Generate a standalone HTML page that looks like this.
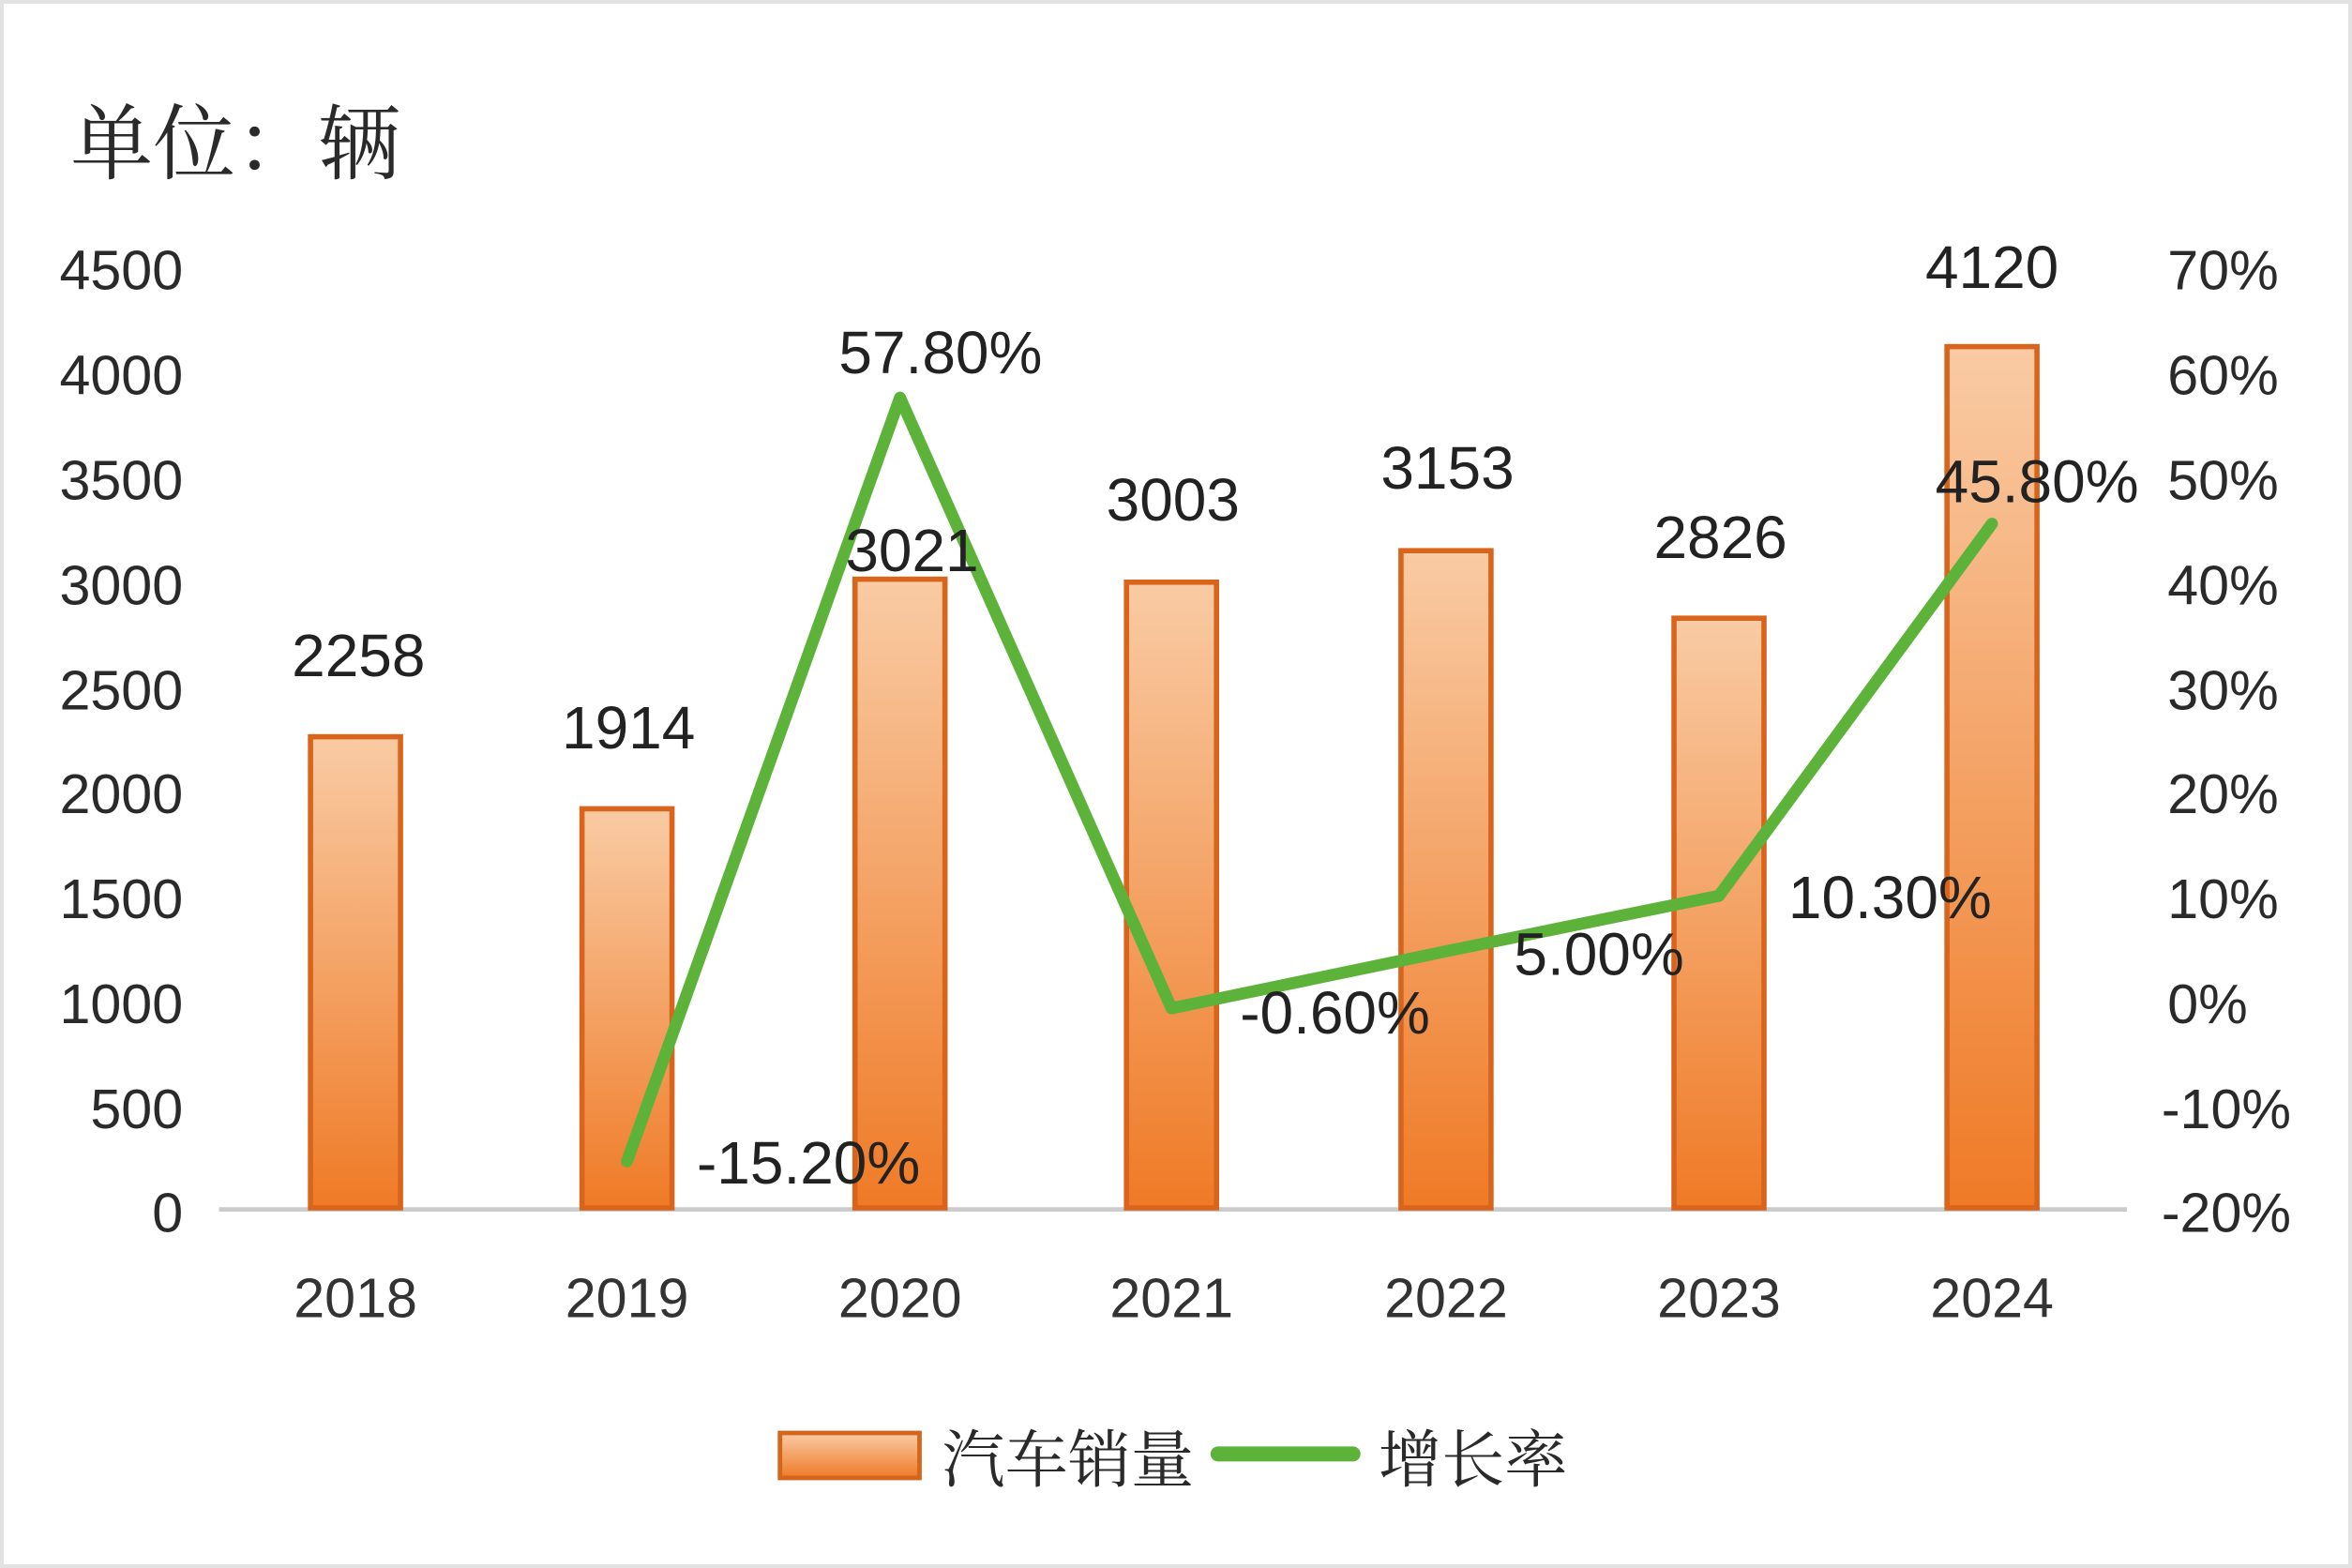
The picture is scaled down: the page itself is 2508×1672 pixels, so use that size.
<!DOCTYPE html>
<html><head><meta charset="utf-8"><style>html,body{margin:0;padding:0;background:#fff}svg{display:block}</style></head>
<body>
<svg width="2508" height="1672" viewBox="0 0 1568 1045" preserveAspectRatio="none" xmlns="http://www.w3.org/2000/svg">
<defs>
<linearGradient id="g" x1="0" y1="0" x2="0" y2="1"><stop offset="0" stop-color="#f9cba4"/><stop offset="1" stop-color="#ef7a26"/></linearGradient>
</defs>
<rect x="0" y="0" width="1568" height="1045" fill="#fff" stroke="#e2e2e2" stroke-width="5"/>
<g font-family="'Noto Serif CJK SC', serif" fill="#2a2a2a">
<text x="47" y="115" font-size="55">单位：辆</text>
</g>
<g font-family="'Liberation Sans','DejaVu Sans',sans-serif" font-size="37" fill="#2a2a2a" dominant-baseline="central">
<g text-anchor="end">
<text x="122" y="180">4500</text><text x="122" y="250">4000</text><text x="122" y="320">3500</text><text x="122" y="390">3000</text><text x="122" y="460">2500</text><text x="122" y="529">2000</text><text x="122" y="599">1500</text><text x="122" y="669">1000</text><text x="122" y="739">500</text><text x="122" y="808">0</text>
</g>
<g text-anchor="start">
<text x="1445" y="180">70%</text><text x="1445" y="250">60%</text><text x="1445" y="320">50%</text><text x="1445" y="390">40%</text><text x="1445" y="460">30%</text><text x="1445" y="529">20%</text><text x="1445" y="599">10%</text><text x="1445" y="669">0%</text><text x="1441" y="739">-10%</text><text x="1441" y="808">-20%</text>
</g>
</g>
<line x1="146" y1="806" x2="1418" y2="806" stroke="#cbcbcb" stroke-width="3"/>
<g fill="url(#g)" stroke="#d9651c" stroke-width="3.5">
<rect x="207" y="491" width="60" height="314"/>
<rect x="388" y="539" width="60" height="266"/>
<rect x="570" y="386" width="60" height="419"/>
<rect x="751" y="388" width="60" height="417"/>
<rect x="934" y="367" width="60" height="438"/>
<rect x="1116" y="412" width="60" height="393"/>
<rect x="1298" y="231" width="60" height="574"/>
</g>
<polyline points="418,774 600,265 781,672 964,634 1146,597 1328,349" fill="none" stroke="#5db33a" stroke-width="8" stroke-linejoin="round" stroke-linecap="round"/>
<g font-family="'Liberation Sans','DejaVu Sans',sans-serif" font-size="40" fill="#222" text-anchor="middle" dominant-baseline="central">
<text x="239" y="437">2258</text><text x="419" y="485">1914</text><text x="608" y="367">3021</text><text x="782" y="333">3003</text><text x="965" y="312">3153</text><text x="1147" y="358">2826</text><text x="1328" y="178">4120</text>
<text x="627" y="235">57.80%</text><text x="539" y="775">-15.20%</text><text x="890" y="675">-0.60%</text><text x="1066" y="636">5.00%</text><text x="1260" y="598">10.30%</text><text x="1358" y="321">45.80%</text>
</g>
<g font-family="'Liberation Sans','DejaVu Sans',sans-serif" font-size="37" fill="#333" text-anchor="middle" dominant-baseline="central">
<text x="237" y="865">2018</text><text x="418" y="865">2019</text><text x="600" y="865">2020</text><text x="781" y="865">2021</text><text x="964" y="865">2022</text><text x="1146" y="865">2023</text><text x="1328" y="865">2024</text>
</g>
<rect x="520" y="955" width="93" height="30" fill="url(#g)" stroke="#d4661c" stroke-width="3"/>
<line x1="812" y1="969" x2="902" y2="969" stroke="#5db33a" stroke-width="10" stroke-linecap="round"/>
<g font-family="'Noto Serif CJK SC', serif" font-size="42" fill="#2a2a2a" dominant-baseline="central">
<text x="628" y="970">汽车销量</text><text x="919" y="970">增长率</text>
</g>
</svg>
</body></html>
